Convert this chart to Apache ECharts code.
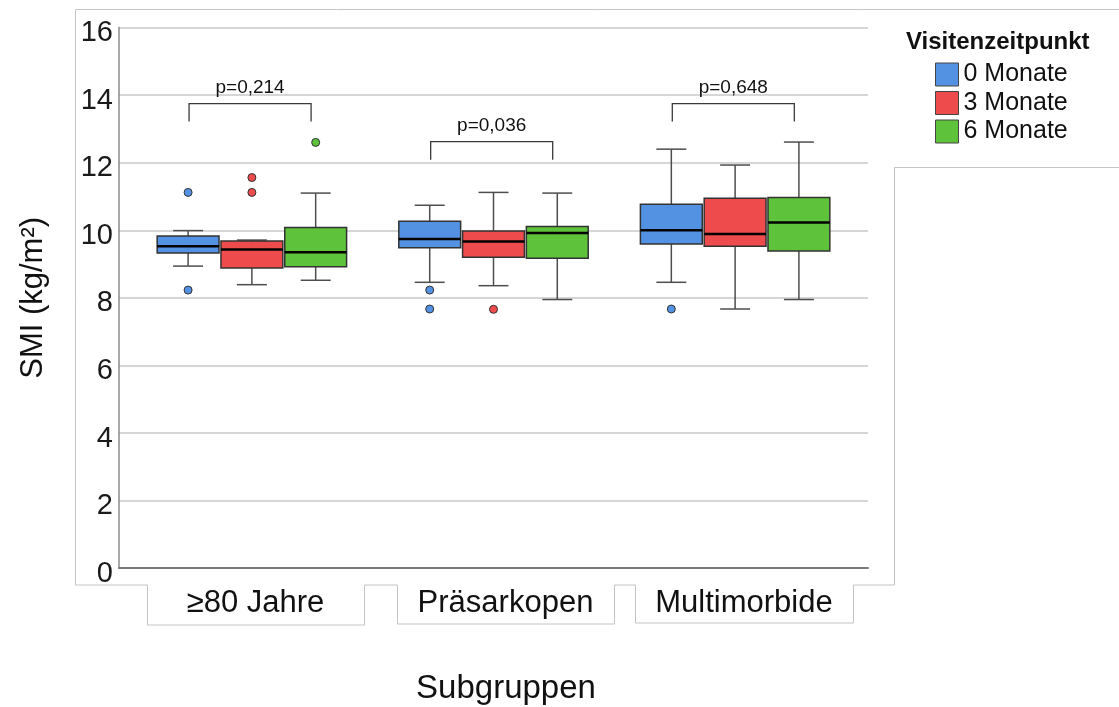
<!DOCTYPE html>
<html>
<head>
<meta charset="utf-8">
<script src="https://cdn.jsdelivr.net/npm/echarts@6/dist/echarts.min.js"></script>
<style>
  html, body { margin: 0; padding: 0; background: #ffffff; }
  #chart { width: 1119px; height: 707px; }
</style>
</head>
<body>
<div id="chart"></div>
<script>
// Subgroups along the x axis
const categories = ['≥80 Jahre', 'Präsarkopen', 'Multimorbide'];
// Visit time points (one box per subgroup each)
const seriesNames = ['0 Monate', '3 Monate', '6 Monate'];
const seriesColors = ['#5392e2', '#ee4b4d', '#5ec23a'];

// Box statistics per subgroup: [min, Q1, median, Q3, max]
const box0 = [
  [8.94, 9.33, 9.53, 9.83, 9.99],
  [8.46, 9.48, 9.74, 10.27, 10.74],
  [8.46, 9.59, 10.00, 10.77, 12.40]
];
const box3 = [
  [8.39, 8.88, 9.43, 9.68, 9.71],
  [8.36, 9.20, 9.67, 9.98, 11.12],
  [7.67, 9.53, 9.89, 10.95, 11.93]
];
const box6 = [
  [8.52, 8.92, 9.35, 10.08, 11.10],
  [7.95, 9.17, 9.92, 10.11, 11.10],
  [7.95, 9.39, 10.23, 10.97, 12.61]
];

// Outliers: [subgroup index, SMI]
const out0 = [[0, 11.12], [0, 8.23], [1, 8.23], [1, 7.67], [2, 7.67]];
const out3 = [[0, 11.56], [0, 11.12], [1, 7.66]];
const out6 = [[0, 12.60]];

// Significance brackets per subgroup
const pLabels = ['p=0,214', 'p=0,036', 'p=0,648'];
const bracketLevels = [13.75, 12.62, 13.75];

// y axis
const yMin = 0, yMax = 16, yStep = 2;

const FONT = '"Liberation Sans", Arial, sans-serif';
const BOX_STEP = 0.264;   // distance between neighbouring boxes, in category units
const BOX_W = 0.256;      // box width, in category units
const CAP_W = 0.124;      // whisker cap width, in category units

const boxSets = [box0, box3, box6];
const outSets = [out0, out3, out6];

function boxRenderer(slot, color) {
  return function (params, api) {
    const g = api.value(0);
    const unit = api.size([1, 0])[0];
    const cx = api.coord([g, 0])[0] + (slot - 1) * BOX_STEP * unit;
    const hw = BOX_W * unit / 2;
    const hc = CAP_W * unit / 2;
    const py = i => api.coord([g, api.value(i)])[1];
    const yLo = py(1), yQ1 = py(2), yMed = py(3), yQ3 = py(4), yHi = py(5);
    const whisker = { stroke: '#4d4d4d', lineWidth: 1.5 };
    return {
      type: 'group',
      children: [
        { type: 'line', shape: { x1: cx, y1: yHi, x2: cx, y2: yQ3 }, style: whisker },
        { type: 'line', shape: { x1: cx, y1: yQ1, x2: cx, y2: yLo }, style: whisker },
        { type: 'line', shape: { x1: cx - hc, y1: yHi, x2: cx + hc, y2: yHi }, style: whisker },
        { type: 'line', shape: { x1: cx - hc, y1: yLo, x2: cx + hc, y2: yLo }, style: whisker },
        { type: 'rect', shape: { x: cx - hw, y: yQ3, width: 2 * hw, height: yQ1 - yQ3 },
          style: { fill: color, stroke: '#333333', lineWidth: 1.5 } },
        { type: 'line', shape: { x1: cx - hw, y1: yMed, x2: cx + hw, y2: yMed },
          style: { stroke: '#000000', lineWidth: 2.5 } }
      ]
    };
  };
}

function outlierRenderer(slot, color) {
  return function (params, api) {
    const g = api.value(0);
    const unit = api.size([1, 0])[0];
    const p = api.coord([g, api.value(1)]);
    return {
      type: 'circle',
      shape: { cx: p[0] + (slot - 1) * BOX_STEP * unit, cy: p[1], r: 4 },
      style: { fill: color, stroke: '#333333', lineWidth: 1 }
    };
  };
}

function bracketRenderer(params, api) {
  const g = api.value(0);
  const unit = api.size([1, 0])[0];
  const top = api.coord([g, api.value(1)]);
  const foot = api.coord([g, api.value(1) - 0.53])[1];
  const xl = top[0] - 0.26 * unit;
  const xr = top[0] + 0.245 * unit;
  return {
    type: 'group',
    children: [
      { type: 'polyline',
        shape: { points: [[xl, foot], [xl, top[1]], [xr, top[1]], [xr, foot]] },
        style: { stroke: '#3a3a3a', lineWidth: 1.3, fill: null } },
      { type: 'text',
        style: { text: pLabels[params.dataIndex], x: (xl + xr) / 2, y: top[1] - 6,
                 align: 'center', verticalAlign: 'bottom',
                 font: '19px ' + FONT, fill: '#111111' } }
    ]
  };
}

const series = [];
seriesNames.forEach((name, s) => {
  series.push({
    name: name,
    type: 'custom',
    renderItem: boxRenderer(s, seriesColors[s]),
    itemStyle: { color: seriesColors[s] },
    encode: { x: 0, y: [1, 2, 3, 4, 5] },
    data: boxSets[s].map((b, i) => [i].concat(b)),
    z: 3
  });
  series.push({
    name: name,
    type: 'custom',
    renderItem: outlierRenderer(s, seriesColors[s]),
    itemStyle: { color: seriesColors[s] },
    encode: { x: 0, y: 1 },
    data: outSets[s],
    z: 4
  });
});
series.push({
  name: 'p',
  type: 'custom',
  renderItem: bracketRenderer,
  encode: { x: 0, y: 1 },
  data: bracketLevels.map((v, i) => [i, v]),
  silent: true,
  z: 5
});

// Layout frames around plot, legend and subgroup labels
const frameColor = '#c4c4c4';
const labelBoxes = [[147, 364, 625], [397, 614, 624], [635, 853, 623]];
const framePoints = [[1119, 9.5], [75.5, 9.5], [75.5, 585]];
labelBoxes.forEach(b => {
  framePoints.push([b[0] + 0.5, 585], [b[0] + 0.5, b[2]], [b[1] + 0.5, b[2]], [b[1] + 0.5, 585]);
});
framePoints.push([894.5, 585], [894.5, 167.5], [1119, 167.5]);

const graphics = [{
  type: 'polyline',
  shape: { points: framePoints },
  style: { stroke: frameColor, lineWidth: 1, fill: null },
  silent: true, z: 0
}];
categories.forEach((c, i) => {
  const b = labelBoxes[i];
  graphics.push({
    type: 'text',
    style: { text: c, x: (b[0] + b[1]) / 2, y: 603, align: 'center', verticalAlign: 'middle',
             font: '31px ' + FONT, fill: '#111111' }
  });
});

const chart = echarts.init(document.getElementById('chart'), null, { renderer: 'canvas' });
chart.setOption({
  animation: false,
  backgroundColor: '#ffffff',
  textStyle: { fontFamily: FONT },
  title: {
    text: 'Visitenzeitpunkt',
    left: 906, top: 30,
    padding: 0,
    textStyle: { fontSize: 24, fontWeight: 'bold', color: '#111111', fontFamily: FONT }
  },
  legend: {
    orient: 'vertical',
    left: 935, top: 62,
    padding: 0,
    itemWidth: 23, itemHeight: 23, itemGap: 3.5,
    selectedMode: false,
    textStyle: { fontSize: 25, color: '#111111', fontFamily: FONT, lineHeight: 23 },
    data: seriesNames.map((n, s) => ({
      name: n, icon: 'rect',
      itemStyle: { color: seriesColors[s], borderColor: '#444444', borderWidth: 1 }
    }))
  },
  grid: {
    left: 119, right: 251, top: 27.5, bottom: 138.8,
    containLabel: false, outerBoundsMode: 'none'
  },
  xAxis: {
    type: 'value',
    min: -0.55, max: 2.55,
    name: 'Subgruppen',
    nameLocation: 'middle',
    nameGap: 104,
    nameTextStyle: { fontSize: 33, color: '#111111', fontFamily: FONT, padding: [0, 0, 0, 25] },
    axisLine: { show: true, onZero: false, lineStyle: { color: '#7a7a7a', width: 2 } },
    axisTick: { show: false },
    axisLabel: { show: false },
    splitLine: { show: false }
  },
  yAxis: {
    type: 'value',
    min: yMin, max: yMax, interval: yStep,
    name: 'SMI (kg/m²)',
    nameLocation: 'middle',
    nameGap: 70,
    nameTextStyle: { fontSize: 31, color: '#111111', fontFamily: FONT },
    axisLine: { show: true, onZero: false, lineStyle: { color: '#8c8c8c', width: 1.5 } },
    axisTick: { show: false },
    axisLabel: { fontSize: 29, color: '#1a1a1a', margin: 6, fontFamily: FONT,
                 verticalAlign: 'top', lineHeight: 11 },
    splitLine: { show: true, lineStyle: { color: '#d6d6d6', width: 2 } }
  },
  graphic: graphics,
  series: series
});
</script>
</body>
</html>
